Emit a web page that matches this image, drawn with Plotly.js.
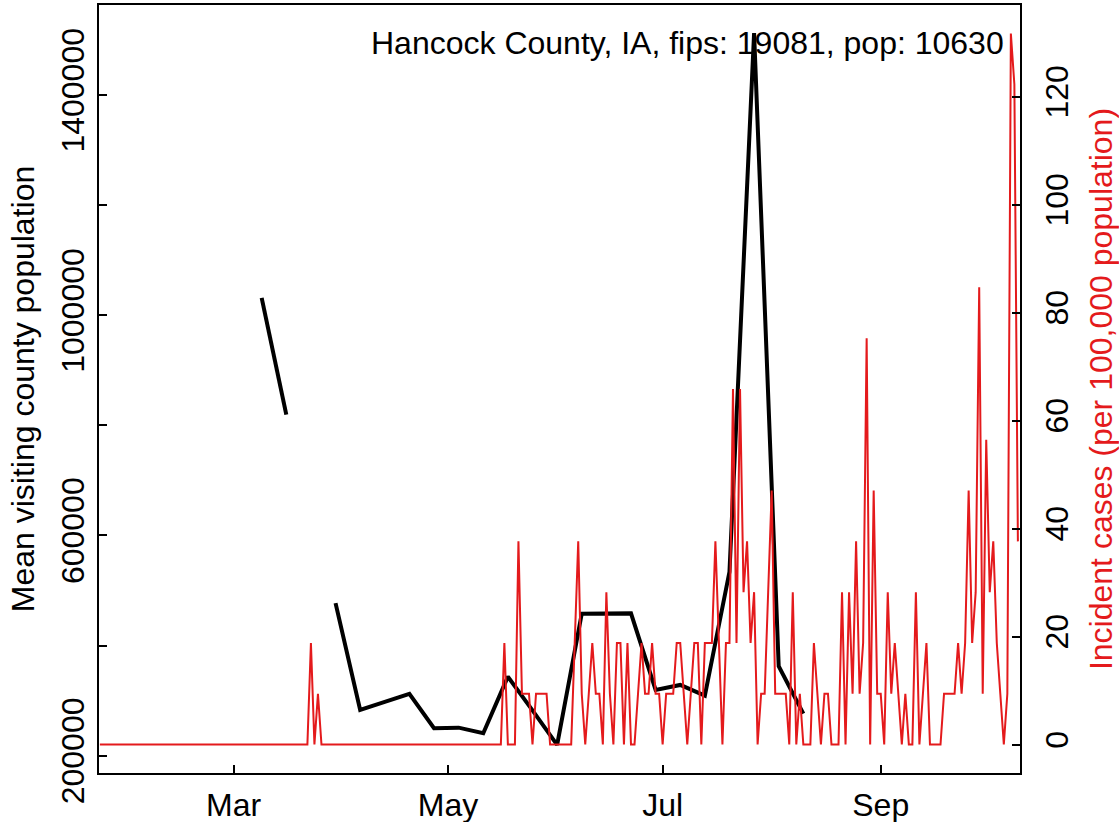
<!DOCTYPE html>
<html>
<head>
<meta charset="utf-8">
<script src="https://cdn.plot.ly/plotly-3.0.1.min.js"></script>
<style>html,body{margin:0;padding:0;background:#fff;}#chart{width:1119px;height:822px;}</style>
</head>
<body>
<div id="chart"></div>
<script>
// Weekly mean visiting county population (Mondays); null = missing week
const weekDates = ['2020-03-09','2020-03-16','2020-03-23','2020-03-30','2020-04-06','2020-04-13','2020-04-20','2020-04-27',
  '2020-05-04','2020-05-11','2020-05-18','2020-05-25','2020-06-01','2020-06-08','2020-06-15','2020-06-22','2020-06-29',
  '2020-07-06','2020-07-13','2020-07-20','2020-07-27','2020-08-03','2020-08-10'];
const visitingPop = [1031600, 819500, null, 477100, 283100, 297600, 312200, 249800,
  250900, 240700, 343600, 282200, 219500, 458000, 458500, 458500, 319500,
  328500, 309100, 534000, 1512700, 362500, 276500];

// Daily incident cases per 100,000 population, starting 2020-01-23
const incidentStart = '2020-01-23';
const incidentRate = [
  0,0,0,0,0,0,0,0,0,0,
  0,0,0,0,0,0,0,0,0,0,
  0,0,0,0,0,0,0,0,0,0,
  0,0,0,0,0,0,0,0,0,0,
  0,0,0,0,0,0,0,0,0,0,
  0,0,0,0,0,0,0,0,0,0,
  18.81,0,9.41,
  0,0,0,0,0,0,0,0,0,0,
  0,0,0,0,0,0,0,0,0,0,
  0,0,0,0,0,0,0,0,0,0,
  0,0,0,0,0,0,0,0,0,0,
  0,0,0,0,0,0,0,0,0,0,
  0,0,
  18.81,0,0,0,37.63,9.41,9.41,9.41,0,9.41,9.41,9.41,9.41,
  0,0,0,0,0,0,0,
  18.81,37.63,9.41,0,9.41,18.81,9.41,9.41,0,28.22,9.41,0,18.81,18.81,0,18.81,0,0,9.41,18.81,
  9.41,9.41,18.81,9.41,9.41,0,9.41,9.41,9.41,18.81,18.81,9.41,0,9.41,18.81,18.81,0,18.81,18.81,18.81,
  37.63,18.81,0,18.81,18.81,65.85,18.81,65.85,28.22,37.63,18.81,28.22,0,9.41,9.41,28.22,47.04,9.41,9.41,9.41,
  9.41,0,28.22,0,9.41,0,0,0,18.81,9.41,0,9.41,9.41,0,0,0,28.22,0,28.22,9.41,
  37.63,9.41,18.81,75.26,0,47.04,9.41,9.41,0,28.22,9.41,18.81,9.41,0,9.41,0,0,28.22,0,9.41,
  18.81,0,0,0,0,9.41,9.41,9.41,9.41,18.81,9.41,18.81,47.04,18.81,28.22,84.67,9.41,56.44,28.22,37.63,
  18.81,9.41,0,9.41,131.70,122.30,37.63
];

const monthTickVals = ['2020-03-01','2020-05-01','2020-07-01','2020-09-01'];
const monthTickText = ['Mar','May','Jul','Sep'];
const leftTickVals = [200000,400000,600000,800000,1000000,1200000,1400000];
const leftTickText = ['200000','','600000','','1000000','','1400000'];
const rightTickVals = [0,20,40,60,80,100,120];
const rightTickText = ['0','20','40','60','80','100','120'];
const titleText = 'Hancock County, IA, fips: 19081, pop: 10630';

// daily date labels for the incidence series
const incidentDates = [];
{
  const t0 = Date.parse(incidentStart + 'T00:00:00Z');
  for (let i = 0; i < incidentRate.length; i++) {
    incidentDates.push(new Date(t0 + i * 86400000).toISOString().slice(0, 10));
  }
}

const FONT = 'Liberation Sans, Arial, Helvetica, sans-serif';
const FS = 32;
const RED = '#E41A1C';

const traces = [
  {x: weekDates, y: visitingPop, type: 'scatter', mode: 'lines', connectgaps: false,
   line: {color: '#000000', width: 4}, yaxis: 'y', hoverinfo: 'x+y'},
  {x: incidentDates, y: incidentRate, type: 'scatter', mode: 'lines',
   line: {color: RED, width: 2}, yaxis: 'y2', hoverinfo: 'x+y'}
];

const layout = {
  width: 1119, height: 822,
  margin: {l: 99, r: 99, t: 5, b: 49, pad: 0},
  paper_bgcolor: '#ffffff', plot_bgcolor: '#ffffff',
  showlegend: false,
  font: {family: FONT, size: FS, color: '#000'},
  xaxis: {
    type: 'date', range: ['2020-01-22 18:00', '2020-10-10 14:24'],
    tickmode: 'array', tickvals: monthTickVals, ticktext: monthTickText,
    ticks: 'inside', ticklen: 8, tickwidth: 2, tickcolor: '#000',
    showline: true, linewidth: 2, linecolor: '#000', mirror: true,
    showgrid: false, zeroline: false, tickfont: {family: FONT, size: FS, color: '#000'},
    ticklabelstandoff: 3
  },
  yaxis: {
    range: [168545, 1563636],
    tickmode: 'array', tickvals: leftTickVals, ticktext: leftTickText, tickangle: -90,
    ticks: 'inside', ticklen: 8, tickwidth: 2, tickcolor: '#000',
    showline: true, linewidth: 2, linecolor: '#000', mirror: true,
    showgrid: false, zeroline: false, tickfont: {family: FONT, size: FS, color: '#000'},
    ticklabelstandoff: 0,
    title: {text: 'Mean visiting county population', font: {family: FONT, size: FS, color: '#000'}, standoff: 11}
  },
  yaxis2: {
    overlaying: 'y', side: 'right', range: [-5.27, 136.97],
    tickmode: 'array', tickvals: rightTickVals, ticktext: rightTickText, tickangle: -90,
    ticks: 'inside', ticklen: 8, tickwidth: 2, tickcolor: '#000',
    showline: true, linewidth: 2, linecolor: '#000',
    showgrid: false, zeroline: false, tickfont: {family: FONT, size: FS, color: '#000'},
    ticklabelstandoff: 8,
    title: {text: 'Incident cases (per 100,000 population)', font: {family: FONT, size: FS, color: RED}, standoff: 16}
  },
  annotations: [{
    text: titleText, xref: 'paper', yref: 'paper', x: 0.9816, y: 0.951, xshift: 3,
    xanchor: 'right', yanchor: 'middle', showarrow: false,
    font: {family: FONT, size: FS, color: '#000'}
  }]
};

Plotly.newPlot('chart', traces, layout, {displayModeBar: false, staticPlot: true});
</script>
</body>
</html>
